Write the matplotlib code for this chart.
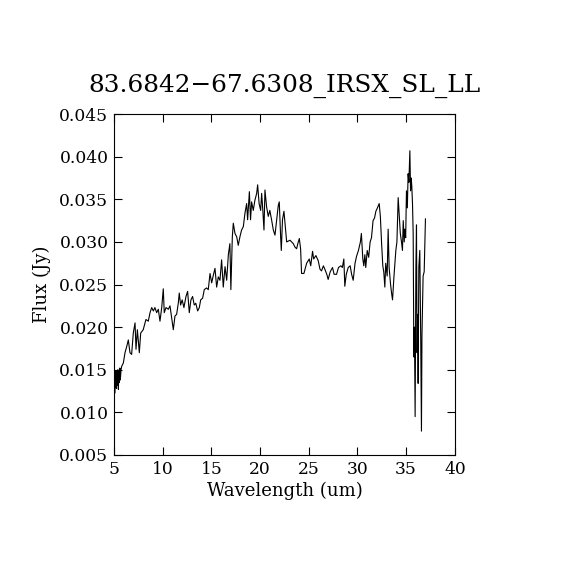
import matplotlib
matplotlib.use('Agg')
import matplotlib.pyplot as plt

# spectrum (wavelength in um, flux in Jy)
wavelength = [5.10, 5.14, 5.17, 5.21, 5.25, 5.30, 5.35, 5.40, 5.45, 5.50,
              5.55, 5.60, 5.65, 5.72, 5.79, 5.96, 6.13,
              6.30, 6.47, 6.64, 6.81, 6.98, 7.16, 7.26, 7.40, 7.60, 7.74,
              8.00, 8.28, 8.52, 8.70, 8.87, 9.04, 9.20, 9.38, 9.55, 9.72,
              9.90, 10.06, 10.16, 10.34, 10.58, 10.75, 10.90, 11.09, 11.26, 11.43,
              11.60, 11.70, 11.84, 12.00, 12.18, 12.39, 12.56, 12.73, 12.90, 13.07,
              13.24, 13.40, 13.59, 13.76, 13.90, 14.10, 14.27, 14.50, 14.68, 14.86,
              15.03, 15.20, 15.37, 15.54, 15.71, 15.88, 16.05, 16.22, 16.40, 16.57,
              16.74, 16.90, 17.00, 17.15, 17.25, 17.42, 17.60, 17.76, 17.93, 18.10,
              18.28, 18.45, 18.62, 18.72, 18.90, 19.02, 19.13, 19.30, 19.47, 19.65,
              19.75, 19.90, 20.06, 20.16, 20.26, 20.40, 20.50, 20.67, 20.84, 21.00,
              21.18, 21.36, 21.53, 21.70, 21.87, 21.97, 22.11, 22.18, 22.30, 22.45,
              22.59, 22.73, 22.90, 23.07, 23.24, 23.41, 23.58, 23.75, 23.92, 24.03,
              24.16, 24.26, 24.50, 24.78, 25.05, 25.20, 25.39, 25.50, 25.73, 25.97,
              26.15, 26.31, 26.50, 26.65, 26.85, 26.99, 27.20, 27.44, 27.60, 27.85,
              28.05, 28.30, 28.45, 28.60, 28.70, 28.85, 29.05, 29.25, 29.40, 29.56,
              29.75, 29.90, 30.10, 30.30, 30.40, 30.55, 30.65, 30.76, 30.85, 31.00,
              31.15, 31.30, 31.44, 31.60, 31.75, 31.89, 32.05, 32.23, 32.35, 32.47,
              32.60, 32.70, 32.81, 32.90, 33.05, 33.15, 33.25, 33.40, 33.50, 33.60,
              33.75, 33.94, 34.05, 34.18, 34.30, 34.40, 34.52, 34.62, 34.70, 34.80,
              34.86, 34.95, 35.03, 35.12, 35.20, 35.28, 35.38, 35.45, 35.52, 35.58,
              35.65, 35.72, 35.79, 35.85, 35.92, 36.00, 36.06, 36.12, 36.18, 36.23,
              36.30, 36.40, 36.50, 36.57, 36.62, 36.74, 36.85, 36.98]
flux = [0.0123, 0.0146, 0.0130, 0.0149, 0.0128, 0.0147, 0.0132, 0.0150, 0.0127, 0.0149,
        0.0135, 0.0152, 0.0138, 0.0150, 0.0154, 0.0158, 0.0170,
        0.0177, 0.0185, 0.0170, 0.0168, 0.0193, 0.0205, 0.0174, 0.0197, 0.0170, 0.0193,
        0.0197, 0.0209, 0.0207, 0.0217, 0.0223, 0.0219, 0.0223, 0.0217, 0.0221, 0.0207,
        0.0223, 0.0245, 0.0217, 0.0223, 0.0221, 0.0225, 0.0213, 0.0197, 0.0213, 0.0215,
        0.0228, 0.0240, 0.0226, 0.0232, 0.0223, 0.0236, 0.0242, 0.0217, 0.0232, 0.0236,
        0.0226, 0.0228, 0.0219, 0.0223, 0.0232, 0.0234, 0.0244, 0.0246, 0.0244, 0.0263,
        0.0252, 0.0261, 0.0269, 0.0247, 0.0259, 0.0255, 0.0279, 0.0247, 0.0271, 0.0255,
        0.0285, 0.0298, 0.0244, 0.0306, 0.0322, 0.0310, 0.0306, 0.0296, 0.0306, 0.0314,
        0.0318, 0.0334, 0.0345, 0.0326, 0.0359, 0.0326, 0.0347, 0.0337, 0.0349, 0.0357,
        0.0367, 0.0345, 0.0337, 0.0357, 0.0341, 0.0314, 0.0361, 0.0341, 0.0330, 0.0337,
        0.0326, 0.0314, 0.0308, 0.0326, 0.0343, 0.0347, 0.0306, 0.0290, 0.0326, 0.0336,
        0.0318, 0.0300, 0.0301, 0.0302, 0.0300, 0.0298, 0.0294, 0.0292, 0.0300, 0.0304,
        0.0292, 0.0263, 0.0263, 0.0275, 0.0280, 0.0272, 0.0289, 0.0280, 0.0284, 0.0278,
        0.0268, 0.0266, 0.0272, 0.0268, 0.0262, 0.0256, 0.0265, 0.0270, 0.0262, 0.0262,
        0.0270, 0.0272, 0.0270, 0.0280, 0.0248, 0.0262, 0.0270, 0.0272, 0.0262, 0.0255,
        0.0275, 0.0283, 0.0290, 0.0300, 0.0310, 0.0280, 0.0272, 0.0285, 0.0270, 0.0290,
        0.0282, 0.0300, 0.0305, 0.0325, 0.0328, 0.0336, 0.0340, 0.0345, 0.0330, 0.0300,
        0.0272, 0.0265, 0.0247, 0.0275, 0.0260, 0.0315, 0.0270, 0.0250, 0.0240, 0.0232,
        0.0260, 0.0290, 0.0300, 0.0352, 0.0330, 0.0310, 0.0300, 0.0290, 0.0325, 0.0300,
        0.0315, 0.0305, 0.0360, 0.0340, 0.0380, 0.0370, 0.0407, 0.0360, 0.0375, 0.0365,
        0.0345, 0.0310, 0.0165, 0.0200, 0.0095, 0.0270, 0.0320, 0.0170, 0.0215, 0.0134,
        0.0270, 0.0290, 0.0180, 0.0078, 0.0190, 0.0260, 0.0265, 0.0327]

x_ticks = [5, 10, 15, 20, 25, 30, 35, 40]
y_ticks = [0.005, 0.010, 0.015, 0.020, 0.025, 0.030, 0.035, 0.040, 0.045]
title = '83.6842\u221267.6308_IRSX_SL_LL'

plt.rcParams['font.family'] = ['DejaVu Serif']

fig = plt.figure(figsize=(5.7, 5.7), dpi=100)
ax = fig.add_axes([0.2, 0.2018, 0.598, 0.598])
ax.plot(wavelength, flux, color='black', lw=0.8)
ax.set_xlim(5, 40)
ax.set_ylim(0.005, 0.045)
ax.set_xticks(x_ticks)
ax.set_yticks(y_ticks)
ax.set_yticklabels([f'{v:.3f}' for v in y_ticks])
ax.tick_params(direction='in', top=True, right=True, length=6, width=0.8,
               labelsize=12.3, pad=4)
for s in ax.spines.values():
    s.set_linewidth(0.8)
ax.set_xlabel('Wavelength (um)', fontsize=13, labelpad=3)
ax.set_ylabel('Flux (Jy)', fontsize=13, labelpad=6)
ax.set_title(title, fontsize=17.8, pad=16)
fig.savefig('out.png', dpi=100, facecolor='white')
